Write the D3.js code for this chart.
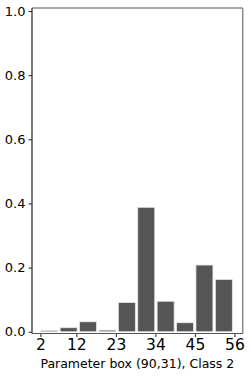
<!DOCTYPE html>
<html>
<head>
<meta charset="utf-8">
<script src="https://cdn.jsdelivr.net/npm/d3@7"></script>
<style>
  body { margin: 0; background: #fff; }
  svg text { font-family: "DejaVu Sans", sans-serif; fill: #000; }
</style>
</head>
<body>
<figure id="hist" style="margin:0"></figure>
<script>
// bin edges start at 2, 10 bins up to 56
const binStart = 2;
const binEnd = 56;
const binValues = [0.004, 0.0125, 0.031, 0.005, 0.091, 0.388, 0.095, 0.028, 0.208, 0.163];
const xTicks = [2, 12, 23, 34, 45, 56];
const yTicks = [0, 0.2, 0.4, 0.6, 0.8, 1.0];
const xLabel = "Parameter box (90,31), Class 2";

const width = 250, height = 377;
const svg = d3.select("figure#hist")
  .append("svg")
  .attr("width", width)
  .attr("height", height);

const plotLeft = 32, plotRight = 242.7, plotTop = 8, plotBottom = 333.5;

const x = d3.scaleLinear().domain([-0.35, 58.3]).range([plotLeft, plotRight]);
const y = d3.scaleLinear().domain([-0.0055, 1.0094]).range([plotBottom, plotTop]);

const binW = (binEnd - binStart) / binValues.length;
const bins = binValues.map((v, i) => ({ x0: binStart + i * binW, x1: binStart + (i + 1) * binW, v }));

// bars
svg.append("g")
  .selectAll("rect")
  .data(bins)
  .enter()
  .append("rect")
  .attr("x", d => x(d.x0) + 0.3)
  .attr("width", d => x(d.x1) - x(d.x0) - 2.4)
  .attr("y", d => y(d.v))
  .attr("height", d => y(0) - y(d.v))
  .style("fill", "#555555")
  .style("stroke", "#e6e6e6")
  .style("stroke-width", 0.8);

// y axis
const yAxis = svg.append("g")
  .attr("transform", "translate(" + plotLeft + ",0)")
  .call(d3.axisLeft(y).tickValues(yTicks).tickFormat(d3.format(".1f")).tickSize(3.5).tickPadding(3));
yAxis.select(".domain").remove();
yAxis.selectAll("line").attr("stroke", "#222");
yAxis.selectAll("text").style("font-size", "13px");

// x axis
const xAxis = svg.append("g")
  .attr("transform", "translate(0," + plotBottom + ")")
  .call(d3.axisBottom(x).tickValues(xTicks).tickFormat(d3.format("d")).tickSize(3.5).tickPadding(2));
xAxis.select(".domain").remove();
xAxis.selectAll("line").attr("stroke", "#222");
xAxis.selectAll("text").style("font-size", "15.5px");

// spines
svg.append("line").attr("x1", plotLeft).attr("x2", plotRight).attr("y1", plotTop).attr("y2", plotTop)
  .attr("stroke", "#8a8a8a").attr("stroke-width", 1.5);
svg.append("line").attr("x1", plotRight).attr("x2", plotRight).attr("y1", plotTop).attr("y2", plotBottom)
  .attr("stroke", "#8a8a8a").attr("stroke-width", 1.5);
svg.append("line").attr("x1", plotLeft).attr("x2", plotLeft).attr("y1", plotTop).attr("y2", plotBottom)
  .attr("stroke", "#222").attr("stroke-width", 1.2);
svg.append("line").attr("x1", plotLeft).attr("x2", plotRight).attr("y1", plotBottom).attr("y2", plotBottom)
  .attr("stroke", "#555").attr("stroke-width", 1.2);

// x label
svg.append("text")
  .attr("x", (plotLeft + plotRight) / 2)
  .attr("y", 368)
  .attr("text-anchor", "middle")
  .style("font-size", "12.5px")
  .text(xLabel);
</script>
</body>
</html>
